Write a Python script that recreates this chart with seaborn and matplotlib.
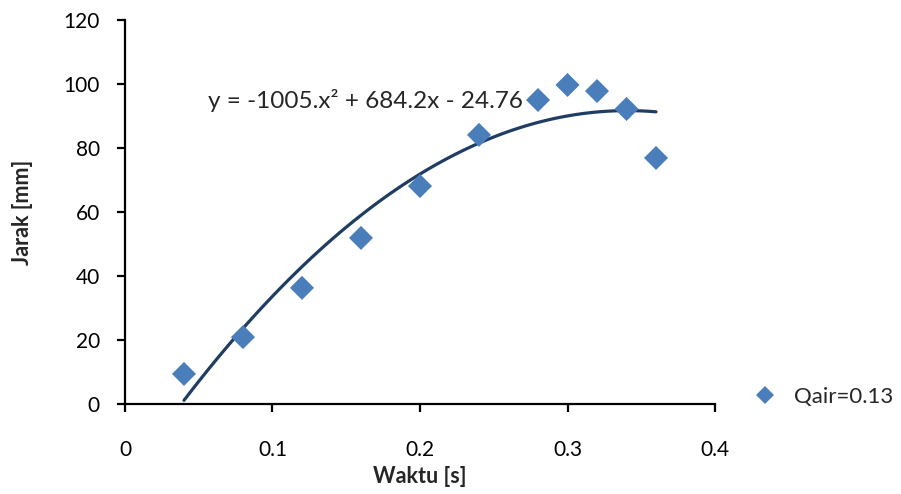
import numpy as np
import pandas as pd
import seaborn as sns
import matplotlib.pyplot as plt

# Data
waktu = [0.04, 0.08, 0.12, 0.16, 0.20, 0.24, 0.28, 0.30, 0.32, 0.34, 0.36]
jarak = [9.4, 20.9, 36.3, 51.9, 68.1, 84.1, 95.0, 99.7, 97.8, 92.2, 76.9]
seri = "Qair=0.13"
persamaan = "y = -1005.x\u00b2 + 684.2x - 24.76"

data = pd.DataFrame({"Waktu": waktu, "Jarak": jarak, "Seri": seri})

sns.set_style("white")
plt.rcParams["font.family"] = ["Lato", "DejaVu Sans"]

fig = plt.figure(figsize=(9.01, 4.94), dpi=100)
ax = fig.add_axes([0.1387, 0.1822, 0.6549, 0.7773])

biru = "#4a7ebb"
garis = "#1f3d63"

# trendline polinomial orde 2
sns.regplot(data=data, x="Waktu", y="Jarak", order=2, ci=None, scatter=False,
            line_kws={"color": garis, "linewidth": 2.3}, ax=ax)
sns.scatterplot(data=data, x="Waktu", y="Jarak", hue="Seri", palette=[biru],
                marker="D", s=150, linewidth=0, ax=ax, zorder=3)

ax.set_xlim(0, 0.4)
ax.set_ylim(0, 120)
ax.set_xticks([0, 0.1, 0.2, 0.3, 0.4])
ax.set_xticklabels(["0", "0.1", "0.2", "0.3", "0.4"])
ax.set_yticks(range(0, 121, 20))

for s in ["top", "right"]:
    ax.spines[s].set_visible(False)
for s in ["left", "bottom"]:
    ax.spines[s].set_color("black")
    ax.spines[s].set_linewidth(1.6)

ax.tick_params(axis="x", direction="out", length=6, width=1.6, pad=20,
               labelsize=15, colors="black", bottom=True)
ax.tick_params(axis="y", direction="out", length=6, width=1.6, pad=12,
               labelsize=15, colors="black", left=True)

ax.set_xlabel("Waktu [s]", fontsize=15.5, fontweight="bold", labelpad=4)
ax.set_ylabel("Jarak [mm]", fontsize=15.5, fontweight="bold", labelpad=22)

ax.text(0.056, 95, persamaan, fontsize=17.5, ha="left", va="center")

handles, labels = ax.get_legend_handles_labels()
ax.legend_.remove()
fig.legend(handles, labels, loc="center left", bbox_to_anchor=(0.815, 0.196),
           frameon=False, fontsize=16, handletextpad=0.8, handlelength=1.0,
           markerscale=0.75)

fig.savefig("out.png", dpi=100, facecolor="white")
